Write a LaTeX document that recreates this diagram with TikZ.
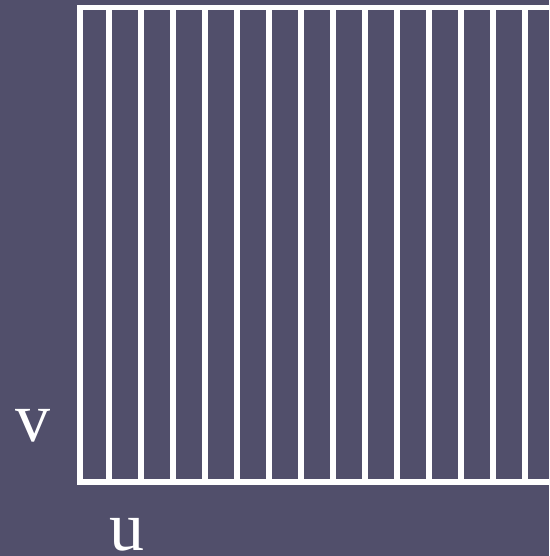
\documentclass[tikz,border=0pt]{standalone}
\usepackage{fontspec}
\setmainfont{Liberation Serif}
\usepackage{tikz}
\usetikzlibrary{positioning}
\definecolor{slateBg}{RGB}{81,79,107}
\tikzset{
  stripline/.style={draw=white, line width=5.5pt},
  axislabel/.style={font=\fontsize{70}{70}\selectfont, text=white, inner sep=0pt}
}
\begin{document}
\begin{tikzpicture}[x=1pt, y=-1pt]
  \fill[slateBg] (0,0) rectangle (549,556);
  \useasboundingbox (0,0) rectangle (549,556);
  % outer frame of the strips
  \coordinate (frameNW) at (80,7.5);
  \coordinate (frameSE) at (570,482);
  \draw[stripline] (frameSE -| 600,0) -- (frameNW -| 600,0) -- (frameNW)
    -- (frameNW |- frameSE) -- (frameSE -| 600,0);
  % vertical strips
  \foreach \k in {0,...,13}{
    \draw[stripline] (109+32*\k,7.5) -- (109+32*\k,482);
  }
  \node[axislabel] (vlab) at (32.5,425.5) {v};
  \node[axislabel] (ulab) at (127,535) {u};
\end{tikzpicture}
\end{document}
